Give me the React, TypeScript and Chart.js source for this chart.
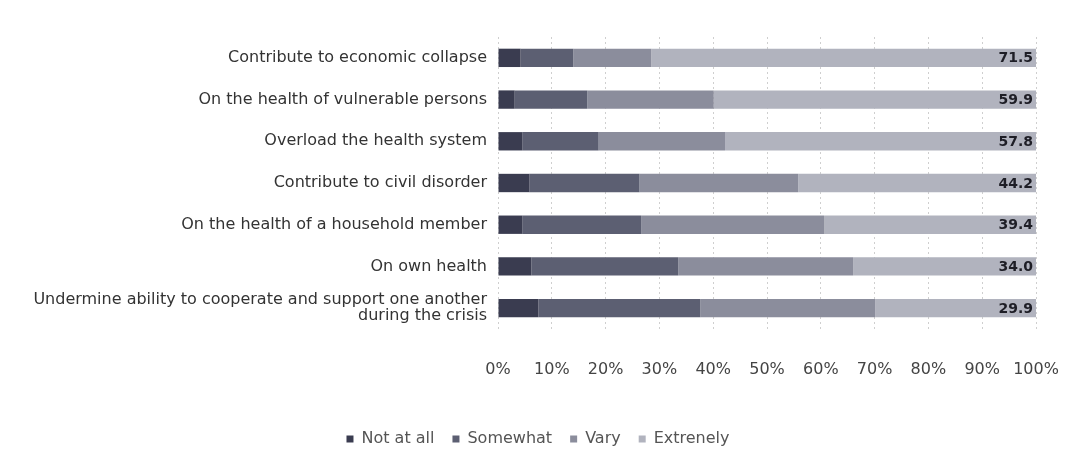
import React, { useEffect, useRef } from "react";
import { Chart, registerables } from "chart.js";

Chart.register(...registerables);

const categories: (string | string[])[] = [
  "Contribute to economic collapse",
  "On the health of vulnerable persons",
  "Overload the health system",
  "Contribute to civil disorder",
  "On the health of a household member",
  "On own health",
  ["Undermine ability to cooperate and support one another", "during the crisis"],
];

const notAtAll = [4.2, 3.1, 4.5, 5.8, 4.5, 6.2, 7.5];
const somewhat = [9.8, 13.5, 14.2, 20.5, 22.1, 27.3, 30.1];
const very = [14.5, 23.5, 23.5, 29.5, 34.0, 32.5, 32.5];
const extremely = [71.5, 59.9, 57.8, 44.2, 39.4, 34.0, 29.9];

const seriesNames = ["Not at all", "Somewhat", "Vary", "Extrenely"];
const seriesColors = ["#3a3c50", "#5c5f72", "#8b8d9c", "#b1b3be"];
const xTicks = [0, 10, 20, 30, 40, 50, 60, 70, 80, 90, 100];

const FONT = "'DejaVu Sans', sans-serif";

const valueLabels = {
  id: "valueLabels",
  afterDatasetsDraw(chart: any) {
    const ctx = chart.ctx;
    const meta = chart.getDatasetMeta(3);
    ctx.save();
    ctx.font = `bold 14px ${FONT}`;
    ctx.fillStyle = "#1e1e26";
    ctx.textAlign = "right";
    ctx.textBaseline = "middle";
    meta.data.forEach((bar: any, i: number) => {
      ctx.fillText(extremely[i].toFixed(1), bar.x - 3, bar.y + 1);
    });
    ctx.restore();
  },
};

export default function App() {
  const ref = useRef<HTMLCanvasElement>(null);
  useEffect(() => {
    if (!ref.current) return;
    const data = [notAtAll, somewhat, very, extremely];
    const chart = new Chart(ref.current, {
      type: "bar",
      data: {
        labels: categories,
        datasets: data.map((d, i) => ({
          label: seriesNames[i],
          data: d,
          backgroundColor: seriesColors[i],
          borderWidth: 0,
          barPercentage: 0.44,
          categoryPercentage: 1,
        })),
      },
      options: {
        indexAxis: "y",
        responsive: false,
        animation: false,
        layout: { padding: { top: 29, right: 0, left: 0, bottom: 6 } },
        plugins: {
          tooltip: { enabled: false },
          legend: {
            position: "bottom",
            labels: {
              boxWidth: 7,
              boxHeight: 7,
              padding: 18,
              color: "#555",
              font: { family: FONT, size: 16 },
            },
          },
        },
        scales: {
          x: {
            stacked: true,
            min: 0,
            max: 100,
            afterBuildTicks: (scale: any) => {
              scale.ticks = xTicks.map((v) => ({ value: v }));
            },
            afterFit: (scale: any) => {
              scale.height = 84;
              scale.paddingLeft = 0;
              scale.paddingRight = 32;
            },
            ticks: {
              callback: (v: any) => v + "%",
              color: "#444",
              padding: 31,
              maxRotation: 0,
              font: { family: FONT, size: 16 },
            },
            grid: {
              color: "#cfcfcf",
              drawTicks: false,
            },
            border: { display: false, dash: [2, 3] },
          },
          y: {
            stacked: true,
            afterFit: (scale: any) => {
              scale.width = 490;
              scale.paddingTop = 0;
              scale.paddingBottom = 0;
            },
            ticks: {
              autoSkip: false,
              color: "#333",
              padding: 11,
              font: { family: FONT, size: 16, lineHeight: 1.0 },
            },
            grid: { display: false, drawTicks: false },
            border: { display: false },
          },
        },
      },
      plugins: [valueLabels],
    });
    return () => chart.destroy();
  }, []);
  return <canvas ref={ref} width={1060} height={455} style={{ display: "block" }} />;
}
